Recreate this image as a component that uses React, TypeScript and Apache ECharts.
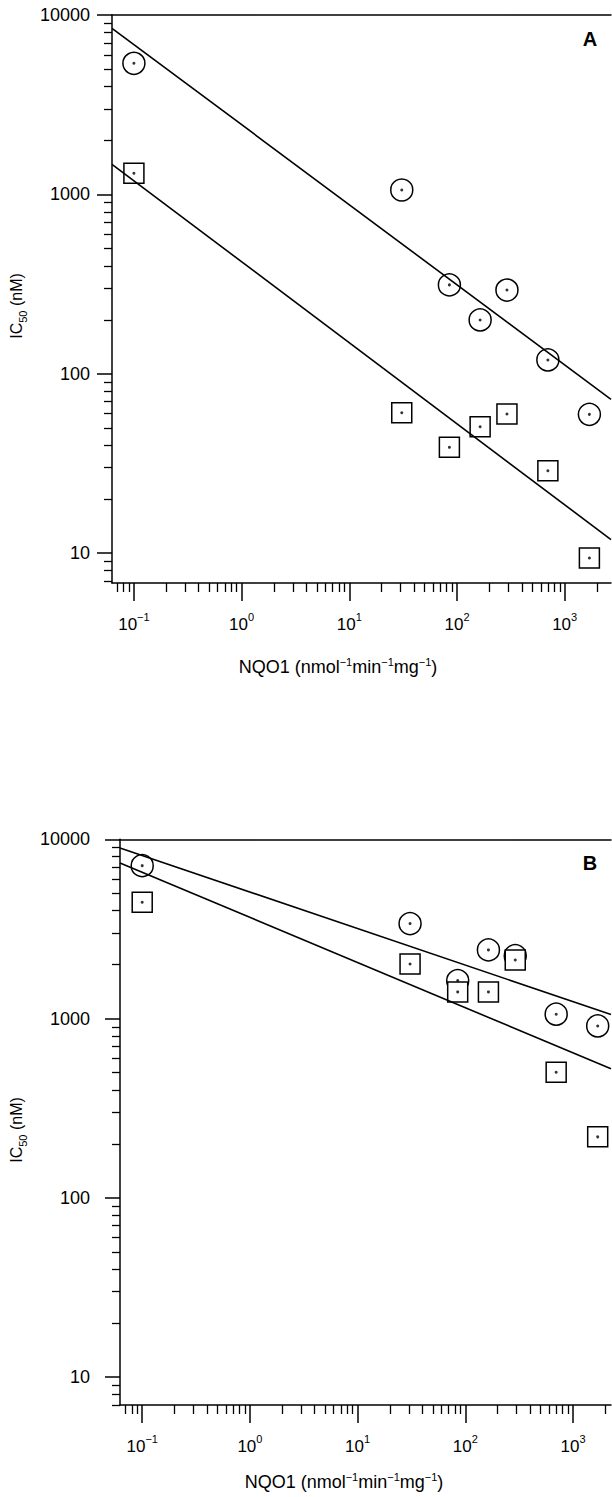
import React, { useEffect, useRef } from "react";
import * as echarts from "echarts";

// ---------- data ----------
const nqo1 = [0.1, 30.7, 85, 164, 291, 698, 1696];
const aCircle = [5380, 1058, 313, 199.5, 293, 119.4, 59.4];
const aSquare = [1312, 60.7, 38.9, 50.7, 59.7, 28.8, 9.4];
const bCircle = [7130, 3388, 1629, 2416, 2245, 1058, 910];
const bSquare = [4459, 2018, 1409, 1409, 2123, 502, 219];

// regression lines: [x, y] endpoints
const aCircleFit = [[0.0626, 8433], [2692, 72]];
const aSquareFit = [[0.0626, 1472], [2692, 11.9]];
const bCircleFit = [[0.0622, 8954], [2254, 1054]];
const bSquareFit = [[0.0622, 7379], [2254, 525]];

// axis ranges
const xRangeA = [0.0626, 2692];
const yRangeA = [6.82, 10000];
const xRangeB = [0.0622, 2254];
const yRangeB = [7.0, 10000];

// tick labels
const xMajor = [0.1, 1, 10, 100, 1000];
const yMajor = [10, 100, 1000, 10000];
const minorMultipliers = [2, 3, 4, 5, 6, 7, 8, 9];
const decades = [0.01, 0.1, 1, 10, 100, 1000];

const panelLabels = ["A", "B"];
const xTitleParts = ["NQO1 (nmol", "min", "mg", ")"];
const yTitle = ["IC", "50", " (nM)"];

const FONT = '"Liberation Sans", Arial, Helvetica, sans-serif';
const L = Math.log10;

function minorTicks(range: number[]) {
  const out: number[] = [];
  decades.forEach((d) =>
    minorMultipliers.forEach((m) => {
      const v = L(m * d);
      if (v >= L(range[0]) && v <= L(range[1])) out.push(v);
    })
  );
  return out;
}

function pts(xs: number[], ys: number[]) {
  return xs.map((x, i) => [L(x), L(ys[i])]);
}
function fit(p: number[][]) {
  return p.map((d) => [L(d[0]), L(d[1])]);
}

const supRich = {
  b: { fontSize: 17, fontFamily: FONT, color: "#000", lineHeight: 22, verticalAlign: "bottom" },
  s: { fontSize: 11, fontFamily: FONT, color: "#000", lineHeight: 12, verticalAlign: "top" },
};

function buildAxes(gi: number, xr: number[], yr: number[], yMargin: number) {
  const xmin = L(xr[0]);
  const xmax = L(xr[1]);
  const ymin = L(yr[0]);
  const ymax = L(yr[1]);
  const lineStyle = { color: "#000", width: 1.5 };
  const xAxes = [
    {
      type: "value",
      gridIndex: gi,
      position: "bottom",
      min: xmin,
      max: xmax,
      axisLine: { show: true, onZero: false, lineStyle },
      axisTick: { show: true, inside: false, length: 18, customValues: xMajor.map(L), lineStyle },
      axisLabel: {
        show: true,
        customValues: xMajor.map(L),
        margin: 28,
        formatter: (v: number) => {
          const e = Math.round(v);
          return `{b|10}{s|${e < 0 ? "\u2212" + Math.abs(e) : e}}`;
        },
        rich: supRich,
      },
      splitLine: { show: false },
    },
    {
      type: "value",
      gridIndex: gi,
      position: "bottom",
      min: xmin,
      max: xmax,
      axisLine: { show: false, onZero: false },
      axisTick: { show: true, inside: false, length: 9, customValues: minorTicks(xr), lineStyle: { color: "#000", width: 1.3 } },
      axisLabel: { show: false },
      splitLine: { show: false },
    },
    {
      type: "value",
      gridIndex: gi,
      position: "top",
      min: xmin,
      max: xmax,
      axisLine: { show: true, onZero: false, lineStyle },
      axisTick: { show: false },
      axisLabel: { show: false },
      splitLine: { show: false },
    },
  ];
  const yAxes = [
    {
      type: "value",
      gridIndex: gi,
      position: "left",
      min: ymin,
      max: ymax,
      axisLine: { show: true, onZero: false, lineStyle },
      axisTick: { show: true, inside: false, length: 15, customValues: yMajor.map(L), lineStyle },
      axisLabel: {
        show: true,
        customValues: yMajor.map(L),
        margin: yMargin,
        fontSize: 18,
        fontFamily: FONT,
        color: "#000",
        formatter: (v: number) => String(Math.round(Math.pow(10, v))),
      },
      splitLine: { show: false },
    },
    {
      type: "value",
      gridIndex: gi,
      position: "left",
      min: ymin,
      max: ymax,
      axisLine: { show: false, onZero: false },
      axisTick: { show: true, inside: false, length: 8, customValues: minorTicks(yr), lineStyle: { color: "#000", width: 1.3 } },
      axisLabel: { show: false },
      splitLine: { show: false },
    },
  ];
  return { xAxes, yAxes };
}

function buildSeries(xi: number, yi: number, circles: number[], squares: number[], cFit: number[][], sFit: number[][]) {
  const lineSer = (d: number[][]) => ({
    type: "line",
    xAxisIndex: xi,
    yAxisIndex: yi,
    data: fit(d),
    symbol: "none",
    lineStyle: { color: "#000", width: 1.6 },
    silent: true,
    clip: true,
  });
  const mk = (data: number[][], symbol: string, size: number) => ({
    type: "scatter",
    xAxisIndex: xi,
    yAxisIndex: yi,
    data,
    symbol,
    symbolSize: size,
    itemStyle: { color: "#fff", borderColor: "#000", borderWidth: 1.5, opacity: 1 },
    silent: true,
  });
  const dot = (data: number[][]) => ({
    type: "scatter",
    xAxisIndex: xi,
    yAxisIndex: yi,
    data,
    symbol: "circle",
    symbolSize: 3,
    itemStyle: { color: "#000" },
    silent: true,
  });
  const c = pts(nqo1, circles);
  const s = pts(nqo1, squares);
  return [lineSer(cFit), lineSer(sFit), mk(c, "circle", 22), dot(c), mk(s, "rect", 20), dot(s)];
}

const titleRich = {
  b: { fontSize: 18, fontFamily: FONT, fill: "#000", lineHeight: 20, verticalAlign: "bottom" },
  s: { fontSize: 11, fontFamily: FONT, fill: "#000", lineHeight: 12, verticalAlign: "top" },
};
const yTitleRich = {
  b: { fontSize: 16, fontFamily: FONT, fill: "#000", lineHeight: 20, verticalAlign: "top" },
  s: { fontSize: 11, fontFamily: FONT, fill: "#000", lineHeight: 12, verticalAlign: "bottom" },
};

function xTitleText() {
  const sup = "{s|\u22121}";
  return `{b|${xTitleParts[0]}}${sup}{b|${xTitleParts[1]}}${sup}{b|${xTitleParts[2]}}${sup}{b|${xTitleParts[3]}}`;
}
function yTitleText() {
  return `{b|${yTitle[0]}}{s|${yTitle[1]}}{b|${yTitle[2]}}`;
}

export default function App() {
  const ref = useRef<HTMLDivElement>(null);
  useEffect(() => {
    document.body.style.margin = "0";
    document.body.style.overflow = "hidden";
    if (!ref.current) return;
    const chart = echarts.init(ref.current, null, { renderer: "svg" });
    const a = buildAxes(0, xRangeA, yRangeA, 22);
    const b = buildAxes(1, xRangeB, yRangeB, 30);
    const option = {
      animation: false,
      backgroundColor: "#fff",
      grid: [
        { left: 112, top: 15, width: 499, height: 568 },
        { left: 120, top: 839.3, width: 491, height: 565.7 },
      ],
      xAxis: [...a.xAxes, ...b.xAxes],
      yAxis: [...a.yAxes, ...b.yAxes],
      series: [
        ...buildSeries(0, 0, aCircle, aSquare, aCircleFit, aSquareFit),
        ...buildSeries(3, 2, bCircle, bSquare, bCircleFit, bSquareFit),
      ],
      graphic: [
        { type: "text", x: 590, y: 39, style: { text: panelLabels[0], font: `bold 20px ${FONT}`, fill: "#000", align: "center", verticalAlign: "middle" } },
        { type: "text", x: 590, y: 863, style: { text: panelLabels[1], font: `bold 20px ${FONT}`, fill: "#000", align: "center", verticalAlign: "middle" } },
        { type: "text", x: 338, y: 666, style: { text: xTitleText(), rich: titleRich, align: "center", verticalAlign: "middle" } },
        { type: "text", x: 344, y: 1481, style: { text: xTitleText(), rich: titleRich, align: "center", verticalAlign: "middle" } },
        { type: "text", x: 18, y: 306, rotation: Math.PI / 2, style: { text: yTitleText(), rich: yTitleRich, align: "center", verticalAlign: "middle" } },
        { type: "text", x: 18, y: 1130, rotation: Math.PI / 2, style: { text: yTitleText(), rich: yTitleRich, align: "center", verticalAlign: "middle" } },
      ],
    };
    chart.setOption(option as any);
    return () => chart.dispose();
  }, []);
  return <div ref={ref} style={{ width: 612, height: 1497 }} />;
}
